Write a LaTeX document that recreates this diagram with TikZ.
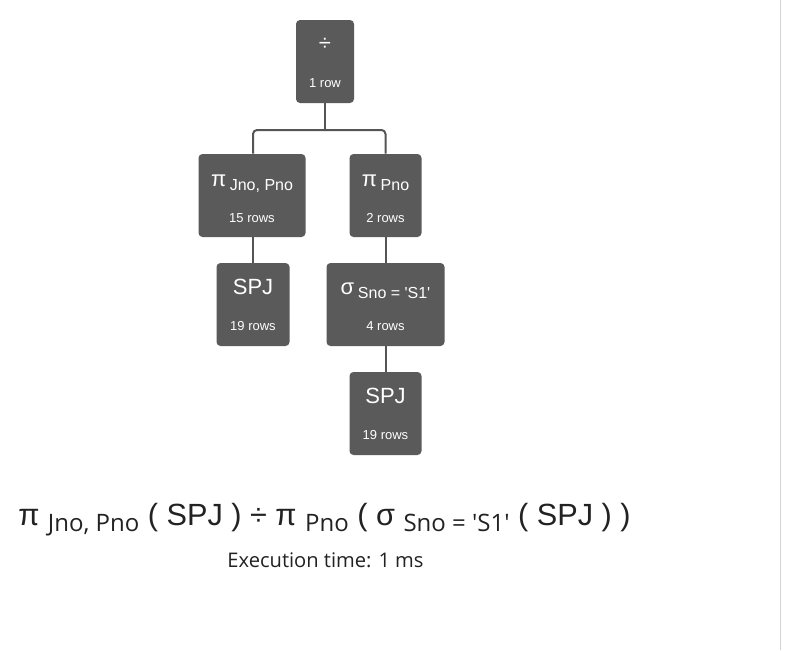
\documentclass[tikz,border=0pt]{standalone}
\usepackage{fontspec}
\setmainfont{Liberation Sans}
\newfontfamily\exprfont{Open Sans}
\definecolor{boxgray}{HTML}{5A5A5A}
\definecolor{linegray}{HTML}{555555}
\definecolor{exprcol}{HTML}{222222}
\definecolor{edgegray}{HTML}{D4D4D4}
\newcommand\boxsub[1]{\raisebox{-3pt}{\fontsize{12}{14}\selectfont #1}}
\newcommand\exprsub[1]{\raisebox{-4.5pt}{\exprfont\fontsize{18}{20}\selectfont #1}}
\newcommand\sq{\textquotesingle}
\begin{document}
\begin{tikzpicture}[x=0.75pt,y=-0.75pt,
  opbox/.style={fill=boxgray, rounded corners=3pt, minimum height=62.25pt, inner sep=0pt},
  optitle/.style={text=white, font=\fontsize{16.5}{18}\selectfont, anchor=base, inner sep=0pt},
  opcount/.style={text=white, font=\fontsize{9.75}{11}\selectfont, anchor=base, inner sep=0pt},
  conn/.style={draw=linegray, line width=1.5pt}]
\useasboundingbox (0,0) rectangle (796,650);
\fill[white] (0,0) rectangle (796,650);
\draw[edgegray, line width=1.2pt] (780.5,0) -- (780.5,650);

% boxes
\node[opbox, minimum width=43.5pt] (div) at (325,61.5) {};
\node[opbox, minimum width=80.25pt] (pjp) at (252,195.5) {};
\node[opbox, minimum width=54pt] (pp) at (385.5,195.5) {};
\node[opbox, minimum width=54.75pt] (spja) at (253,304.5) {};
\node[opbox, minimum width=88.5pt] (sel) at (385.5,304.5) {};
\node[opbox, minimum width=54pt] (spjb) at (385.5,413.5) {};

% titles
\node[optitle, anchor=center] (divt) at ([yshift=-18.75pt]div.north) {÷};
\node[optitle] (pjpt) at ([yshift=-24.75pt]pjp.north) {π\,\boxsub{Jno, Pno}};
\node[optitle] (ppt) at ([yshift=-24.75pt]pp.north) {π\,\boxsub{Pno}};
\node[optitle] (spjat) at ([yshift=-24pt]spja.north) {SPJ};
\node[optitle] (selt) at ([yshift=-24pt]sel.north) {σ\,\boxsub{Sno = \sq S1\sq}};
\node[optitle] (spjbt) at ([yshift=-24pt]spjb.north) {SPJ};

% counts
\node[opcount] (divc) at ([yshift=12pt]div.south) {1 row};
\node[opcount] (pjpc) at ([yshift=11.25pt]pjp.south) {15 rows};
\node[opcount] (ppc) at ([yshift=11.25pt]pp.south) {2 rows};
\node[opcount] (spjac) at ([yshift=12pt]spja.south) {19 rows};
\node[opcount] (selc) at ([yshift=12pt]sel.south) {4 rows};
\node[opcount] (spjbc) at ([yshift=12pt]spjb.south) {19 rows};

% connectors
\coordinate (fork) at (325,130);
\draw[conn] (div.south) -- (fork);
\draw[conn, rounded corners=3pt] (spja.north |- pjp.north) |- (fork) -| (pp.north);
\draw[conn] (spja.north |- pjp.south) -- (spja.north);
\draw[conn] (pp.south) -- (sel.north);
\draw[conn] (sel.south) -- (spjb.north);

% expression
\node[anchor=base west, inner sep=0pt, text=exprcol, font=\fontsize{23}{26}\selectfont] (expr) at (18,525)
  {π \exprsub{Jno, Pno} ( SPJ ) ÷ π \exprsub{Pno} ( σ \exprsub{Sno = \sq S1\sq} ( SPJ ) )};
\node[anchor=base, inner sep=0pt, text=exprcol, font=\exprfont\fontsize{15.1}{17}\selectfont] (time) at (325.5,567)
  {Execution time: 1 ms};
\end{tikzpicture}
\end{document}
